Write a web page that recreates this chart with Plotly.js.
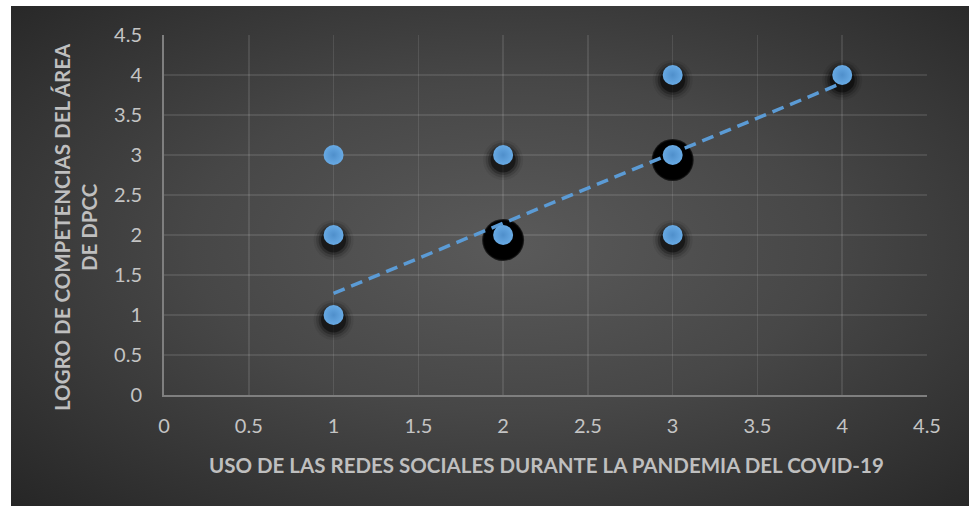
<!DOCTYPE html>
<html>
<head>
<meta charset="utf-8">
<script src="https://cdn.plot.ly/plotly-3.0.1.min.js"></script>
<style>
  html, body { margin:0; padding:0; background:#ffffff; }
  #wrap { position:relative; width:969px; height:506px; overflow:hidden; }
  #bg { position:absolute; left:11px; top:6px; width:958px; height:500px;
        background: radial-gradient(ellipse at 52% 48%, #5a5a5a 0%, #474747 45%, #262626 100%); }
  #chart { position:absolute; left:0; top:0; width:969px; height:506px; }
</style>
</head>
<body>
<div id="wrap"><div id="bg"></div><div id="chart"></div></div>
<script>
// Data
const usoRedes   = [1, 1, 1, 2, 2, 3, 3, 3, 4];          // x values
const logroDPCC  = [3, 2, 1, 3, 2, 4, 3, 2, 4];          // y values
const overlap    = [1, 2, 2, 2, 5, 2, 5, 2, 2];          // how many observations sit on each point
const trendX     = [1, 4];
const trendY     = [1.27, 3.9];
const xTicks     = [0, 0.5, 1, 1.5, 2, 2.5, 3, 3.5, 4, 4.5];
const yTicks     = [0, 0.5, 1, 1.5, 2, 2.5, 3, 3.5, 4, 4.5];

const xTitle = 'USO DE LAS REDES SOCIALES DURANTE LA PANDEMIA DEL COVID-19';
const yTitle = 'LOGRO DE COMPETENCIAS DEL ÁREA<br>DE DPCC';

const blue = '#5B9BD5';
const FONT = 'Lato, "Open Sans", sans-serif';

// shadow sizes derived from overlap counts
const big = overlap.map(n => n >= 4);
const has = overlap.map(n => n >= 2);
const glowLayers = [
  { size: b => b ? 42 : 40, alpha: 0.10 },
  { size: b => b ? 40 : 35, alpha: 0.20 },
  { size: b => b ? 39 : 30, alpha: 0.35 },
  { size: b => b ? 38 : 25, alpha: 0.65 }
];

const traces = [
  // anchor trace for the main axes (invisible)
  { x: trendX, y: trendY, type:'scatter', mode:'lines', hoverinfo:'skip',
    line:{ color:'rgba(0,0,0,0)', width:0 } }
];
glowLayers.forEach(g => traces.push({
  x: usoRedes, y: logroDPCC, type:'scatter', mode:'markers', yaxis:'y2', hoverinfo:'skip',
  marker:{ size: big.map((b, i) => has[i] ? g.size(b) : 0),
           color: big.map(b => b ? 'rgba(0,0,0,1)' : 'rgba(0,0,0,' + g.alpha + ')'),
           line:{width:0} }
}));
traces.push(
  { x: trendX, y: trendY, type:'scatter', mode:'lines', yaxis:'y3',
    line:{ color: blue, width: 3.5, dash:'12px,7px' } },
  { x: usoRedes, y: logroDPCC, type:'scatter', mode:'markers', yaxis:'y3',
    marker:{ size: 20, color:'#68AAE4', gradient:{ type:'radial', color:'#4F8FCB' }, line:{width:0} } }
);

const plotH = 360; // px height of plot area
const shift = 5 / plotH * 4.5; // 5px shadow offset expressed through a second axis

const axisFont = { family: FONT, size: 20, color: '#c4c4c4' };

const layout = {
  width: 969, height: 506,
  margin: { l:164, r:42, t:35, b:111 },
  paper_bgcolor: 'rgba(0,0,0,0)',
  plot_bgcolor: 'rgba(0,0,0,0)',
  showlegend: false,
  xaxis: {
    range: [0, 4.5], tickvals: xTicks, ticktext: xTicks.map(String),
    showgrid: true, gridcolor: 'rgba(255,255,255,0.10)', gridwidth: 1.5,
    zeroline: false, showline: true, linecolor: '#7f7f7f', linewidth: 2,
    ticks: '', tickfont: axisFont, ticklabelstandoff: 12
  },
  yaxis: {
    range: [0, 4.5], tickvals: yTicks, ticktext: yTicks.map(String),
    showgrid: true, gridcolor: 'rgba(255,255,255,0.10)', gridwidth: 1.5,
    zeroline: false, showline: true, linecolor: '#7f7f7f', linewidth: 2,
    ticks: '', tickfont: axisFont, ticklabelstandoff: 16
  },
  yaxis2: {
    range: [0 + shift, 4.5 + shift], overlaying: 'y', visible: false, fixedrange: true
  },
  yaxis3: {
    range: [0, 4.5], overlaying: 'y', visible: false, fixedrange: true
  },
  annotations: [
    { text: xTitle, xref:'paper', yref:'paper', x: 0.501, y: -0.194,
      xanchor:'center', yanchor:'middle', showarrow:false,
      font:{ family: FONT, size: 20.5, color:'#bfbfbf', weight: 'bold' } },
    { text: yTitle, xref:'paper', yref:'paper', x: -0.1153, y: 0.4667, textangle: -90,
      xanchor:'center', yanchor:'middle', showarrow:false,
      font:{ family: FONT, size: 20.5, color:'#bfbfbf', weight: 'bold' } }
  ]
};

Plotly.newPlot('chart', traces, layout, { displayModeBar:false, staticPlot:true });
</script>
</body>
</html>
